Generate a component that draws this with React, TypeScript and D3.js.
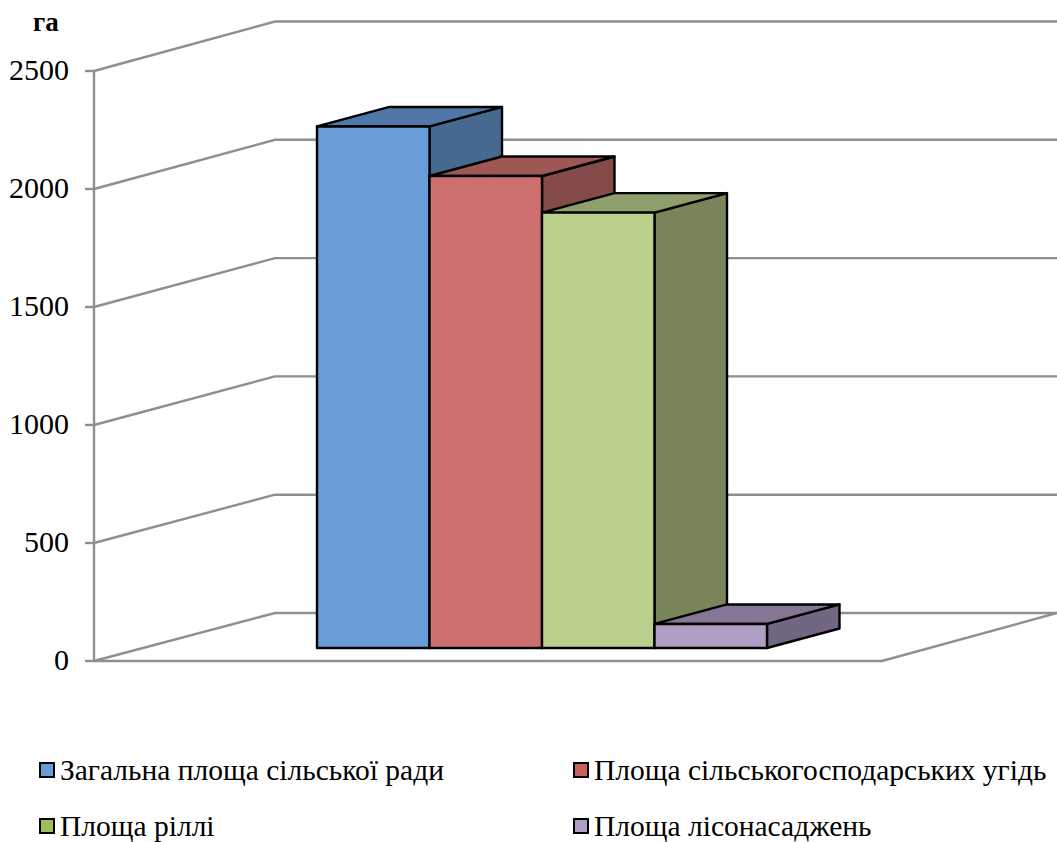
import React from "react";
import * as d3 from "d3";

const WIDTH = 1057;
const HEIGHT = 842;

// Land areas, hectares
const seriesNames = [
  "Загальна площа сільської ради",
  "Площа сільськогосподарських угідь",
  "Площа ріллі",
  "Площа лісонасаджень",
];
const seriesValues = [2210, 2000, 1845, 102];
const frontColors = ["#6a9bd9", "#cc6f6e", "#bbd08c", "#b09ec6"];
const topColors = ["#4f78a8", "#9e5755", "#8e9f6b", "#857696"];
const sideColors = ["#46698f", "#844b48", "#78855a", "#716783"];
const swatchColors = ["#6a9bd9", "#c9605c", "#9fbf5a", "#b09ec6"];
const yTicks = [0, 500, 1000, 1500, 2000, 2500];
const unitLabel = "га";

const FONT = "'Liberation Serif', 'Times New Roman', serif";
const GRID = "#8f8f8f";

// Oblique projection: one value scale on the front plane, one on the back wall
const y = d3.scaleLinear().domain([0, 2500]).range([661, 71]);
const yWall = d3.scaleLinear().domain([0, 2500]).range([613, 21.5]);
const wallDx = 181;
const floorRight = 882;
const wallRight = 1057;
const axisX = 94;

// Columns stand on the floor partway into the depth of the box
const barBaseY = 648;
const barDx = 72.5;
const barDy = -19.5;
const x = d3.scaleBand<string>().domain(seriesNames).range([317, 767]).padding(0);

const outline = (pts: [number, number][]) => d3.line()(pts)! + "Z";

const legendItems = [
  { col: 0, row: 0 },
  { col: 1, row: 0 },
  { col: 0, row: 1 },
  { col: 1, row: 1 },
];
const legendColX = [39, 573];
const legendRowY = [771, 827];

export default function App() {
  return (
    <svg
      width={WIDTH}
      height={HEIGHT}
      viewBox={`0 0 ${WIDTH} ${HEIGHT}`}
      style={{ position: "absolute", left: 0, top: 0, background: "#fff" }}
      fontFamily={FONT}
    >
      {/* Walls and gridlines */}
      <g fill="none" stroke={GRID} strokeWidth={2.4}>
        {yTicks.map((t) => (
          <path
            key={t}
            d={d3.line()([
              [axisX, y(t)],
              [axisX + wallDx, yWall(t)],
              [wallRight, yWall(t)],
            ])!}
          />
        ))}
        <path d={d3.line()([[axisX, y(0)], [floorRight, y(0)], [wallRight, yWall(0)]])!} />
        <path d={d3.line()([[axisX, y(2500)], [axisX, y(0)]])!} />
        {yTicks.map((t) => (
          <path key={t} d={d3.line()([[axisX - 9, y(t)], [axisX, y(t)]])!} />
        ))}
      </g>

      {/* Axis labels */}
      <g fontSize={30} fill="#000" textAnchor="end">
        {yTicks.map((t) => (
          <text key={t} x={69} y={y(t) + 9}>
            {t}
          </text>
        ))}
      </g>
      <text x={46} y={31} fontSize={27} fontWeight="bold" textAnchor="middle" fill="#000">
        {unitLabel}
      </text>

      {/* Columns, left to right so each one overlaps the side of its neighbour */}
      <g stroke="#000" strokeWidth={2.4} strokeLinejoin="round">
        {seriesNames.map((name, i) => {
          const x0 = x(name)!;
          const x1 = x0 + x.bandwidth();
          const h = barBaseY - (y(0) - y(seriesValues[i]));
          return (
            <g key={name}>
              <path
                fill={sideColors[i]}
                d={outline([
                  [x1, h],
                  [x1 + barDx, h + barDy],
                  [x1 + barDx, barBaseY + barDy],
                  [x1, barBaseY],
                ])}
              />
              <path
                fill={topColors[i]}
                d={outline([
                  [x0, h],
                  [x0 + barDx, h + barDy],
                  [x1 + barDx, h + barDy],
                  [x1, h],
                ])}
              />
              <rect x={x0} y={h} width={x.bandwidth()} height={barBaseY - h} fill={frontColors[i]} />
            </g>
          );
        })}
      </g>

      {/* Legend */}
      {seriesNames.map((name, i) => {
        const { col, row } = legendItems[i];
        return (
          <g key={name}>
            <rect
              x={legendColX[col] + 1}
              y={legendRowY[row] - 8}
              width={14}
              height={14}
              fill={swatchColors[i]}
              stroke="#000"
              strokeWidth={2}
            />
            <text x={legendColX[col] + 21} y={legendRowY[row] + 9} fontSize={29.5} fill="#000">
              {name}
            </text>
          </g>
        );
      })}
    </svg>
  );
}
